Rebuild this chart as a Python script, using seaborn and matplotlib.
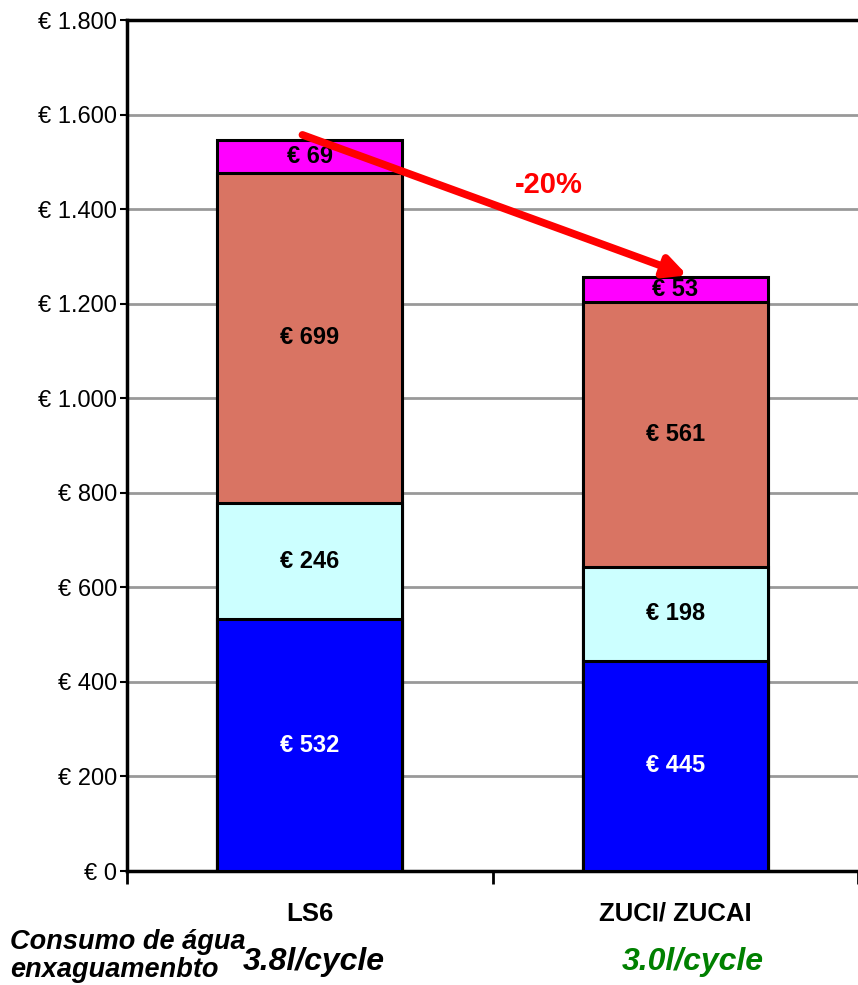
import matplotlib
matplotlib.use("Agg")
import matplotlib.pyplot as plt
import seaborn as sns
import numpy as np
import pandas as pd

categories = ["LS6", "ZUCI/ ZUCAI"]
seg_blue = [532, 445]
seg_cyan = [246, 198]
seg_salmon = [699, 561]
seg_magenta = [69, 53]
water_labels = ["3.8l/cycle", "3.0l/cycle"]
water_colors = ["black", "#008000"]
yticks = [0, 200, 400, 600, 800, 1000, 1200, 1400, 1600, 1800]
change_label = "-20%"

sns.set_theme(style="white")
plt.rcParams['font.family'] = ['Liberation Sans', 'DejaVu Sans']
plt.rcParams['text.color'] = 'black'

segments = [seg_blue, seg_cyan, seg_salmon, seg_magenta]
colors = ["#0000FF", "#CCFFFF", "#D97463", "#FF00FF"]
text_colors = ["white", "black", "black", "black"]

cum = np.cumsum(np.array(segments), axis=0)

fig = plt.figure(figsize=(8.58, 9.85), dpi=100)
ax = fig.add_axes([127/858, (985-871)/985, (858-127)/858, (871-20)/985])

# draw from the top (largest cumulative) down so each segment covers the one below
for i in range(len(segments) - 1, -1, -1):
    df = pd.DataFrame({"cat": categories, "val": cum[i]})
    sns.barplot(data=df, x="cat", y="val", color=colors[i], width=0.505,
                edgecolor="black", linewidth=2.2, saturation=1, ax=ax, zorder=3)

ax.set_xlim(-0.5, 1.49)
ax.set_ylim(0, 1800)
ax.set_xlabel("")
ax.set_ylabel("")

# segment labels
for i, seg in enumerate(segments):
    for j, v in enumerate(seg):
        bottom = cum[i][j] - v
        ax.text(j, bottom + v / 2, f"€ {v}", ha="center", va="center",
                fontsize=17, fontweight="bold", color=text_colors[i], zorder=5)

# y axis
ax.set_yticks(yticks)
ax.set_yticklabels([f"€ {t:,}".replace(",", ".") for t in yticks], fontsize=17)
ax.tick_params(axis="y", direction="out", length=5, width=1.5, pad=2, left=True,
               colors="black", labelcolor="black")
ax.yaxis.grid(True, color="#999999", linewidth=2, zorder=0)
ax.set_axisbelow(True)

# x axis: category labels below, separator ticks
ax.set_xticks([0, 1])
ax.set_xticklabels([])
ax.tick_params(axis="x", which="major", length=0)
ax.set_xticks([-0.5, 0.5, 1.5], minor=True)
ax.tick_params(axis="x", which="minor", direction="out", length=9, width=2, bottom=True, colors="black")

for sp in ["left", "bottom", "top"]:
    ax.spines[sp].set_visible(True)
    ax.spines[sp].set_color("black")
    ax.spines[sp].set_linewidth(2.5)
ax.spines["right"].set_visible(False)

for j, c in enumerate(categories):
    ax.text(j, -90, c, ha="center", va="center", fontsize=18.5, fontweight="bold",
            color="black", clip_on=False)

# arrow and percentage
ax.annotate("", xy=(1.033, cum[-1][1] + 3), xytext=(-0.02, cum[-1][0] + 11),
            arrowprops=dict(arrowstyle="-|>", color="#FF0000", lw=5.5,
                            mutation_scale=32, shrinkA=0, shrinkB=0),
            zorder=6)
ax.text(0.654, 1451, change_label, ha="center", va="center", fontsize=21,
        fontweight="bold", color="#FF0000", zorder=6)

# water consumption
fig.text(10/858, 1 - 942/985, "Consumo de água", ha="left", va="center",
         fontsize=19.5, fontweight="bold", fontstyle="italic", color="black")
fig.text(10/858, 1 - 970/985, "enxaguamenbto", ha="left", va="center",
         fontsize=19.5, fontweight="bold", fontstyle="italic", color="black")
water_x_px = [314, 693]
for lab, col, xp in zip(water_labels, water_colors, water_x_px):
    fig.text(xp / 858, 1 - 962/985, lab, ha="center", va="center",
             fontsize=23, fontweight="bold", fontstyle="italic", color=col)

fig.savefig("out.png", dpi=100)
